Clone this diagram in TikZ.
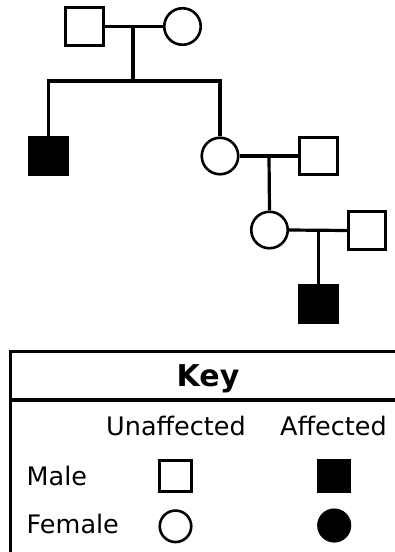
\documentclass[tikz,border=0pt]{standalone}
\usepackage{fontspec}
\setmainfont{DejaVu Sans}
\begin{document}
\begin{tikzpicture}[x=1pt,y=-1pt,
  male/.style={draw=black,line width=2.6pt,rectangle,minimum size=37.5pt,inner sep=0pt,fill=white},
  female/.style={draw=black,line width=2.6pt,circle,minimum size=36.5pt,inner sep=0pt,fill=white},
  affected/.style={fill=black},
  link/.style={line width=3.2pt,black},
  keymale/.style={draw=black,line width=2.6pt,rectangle,minimum size=31.5pt,inner sep=0pt},
  keyfemale/.style={draw=black,line width=2.6pt,circle,minimum size=31.5pt,inner sep=0pt},
  keytext/.style={inner sep=0pt,font=\fontsize{25.5}{30}\selectfont}
]
\useasboundingbox (0,0) rectangle (395,552);

% generation I
\node[male]   (gf) at (84.5,26.5) {};
\node[female] (gm) at (182.5,26.5) {};
\coordinate (m1) at (133,26.5);
\coordinate (sib) at (133,81);

% generation II
\node[male,affected] (son1) at (48.5,156) {};
\node[female] (d1) at (220,156) {};
\node[male]   (h1) at (318.5,156) {};
\coordinate (m2) at (269,156);

% generation III
\node[female] (d2) at (269.5,230) {};
\node[male]   (h2) at (367,230.5) {};
\coordinate (m3) at (318.5,230.5);

% generation IV
\node[male,affected] (son2) at (318.5,304) {};

% couples and descent lines
\draw[link] (gf.east) -- (gm.west);
\draw[link] (m1) -- (sib);
\draw[link] (son1.north) |- (sib) -| (d1.north);
\draw[link] (d1.east) -- (h1.west);
\draw[link] (m2) -- (d2.north);
\draw[link] (d2.east) -- (h2.west);
\draw[link] (m3) -- (son2.north);

% key box
\draw[line width=2.6pt] (396,351.7) -- (10.7,351.7) -- (10.7,553);
\draw[line width=3.4pt] (10.7,400) -- (396,400);
\node[inner sep=0pt,anchor=base,font=\fontsize{30}{36}\selectfont\bfseries] (keytitle) at (208,386.7) {Key};
\node[keytext,anchor=base] (unaff) at (176,435.7) {Unaffected};
\node[keytext,anchor=base] (aff) at (333.5,435.7) {Affected};
\node[keytext,anchor=base west] (malelbl) at (26.5,485) {Male};
\node[keytext,anchor=base west] (femlbl) at (26.5,533.3) {Female};

\node[keymale] (km) at (175.5,476) {};
\node[keymale,fill=black] (kma) at (334.2,476.3) {};
\node[keyfemale] (kf) at (175.5,526.3) {};
\node[keyfemale,fill=black] (kfa) at (334.2,525.5) {};
\end{tikzpicture}
\end{document}
